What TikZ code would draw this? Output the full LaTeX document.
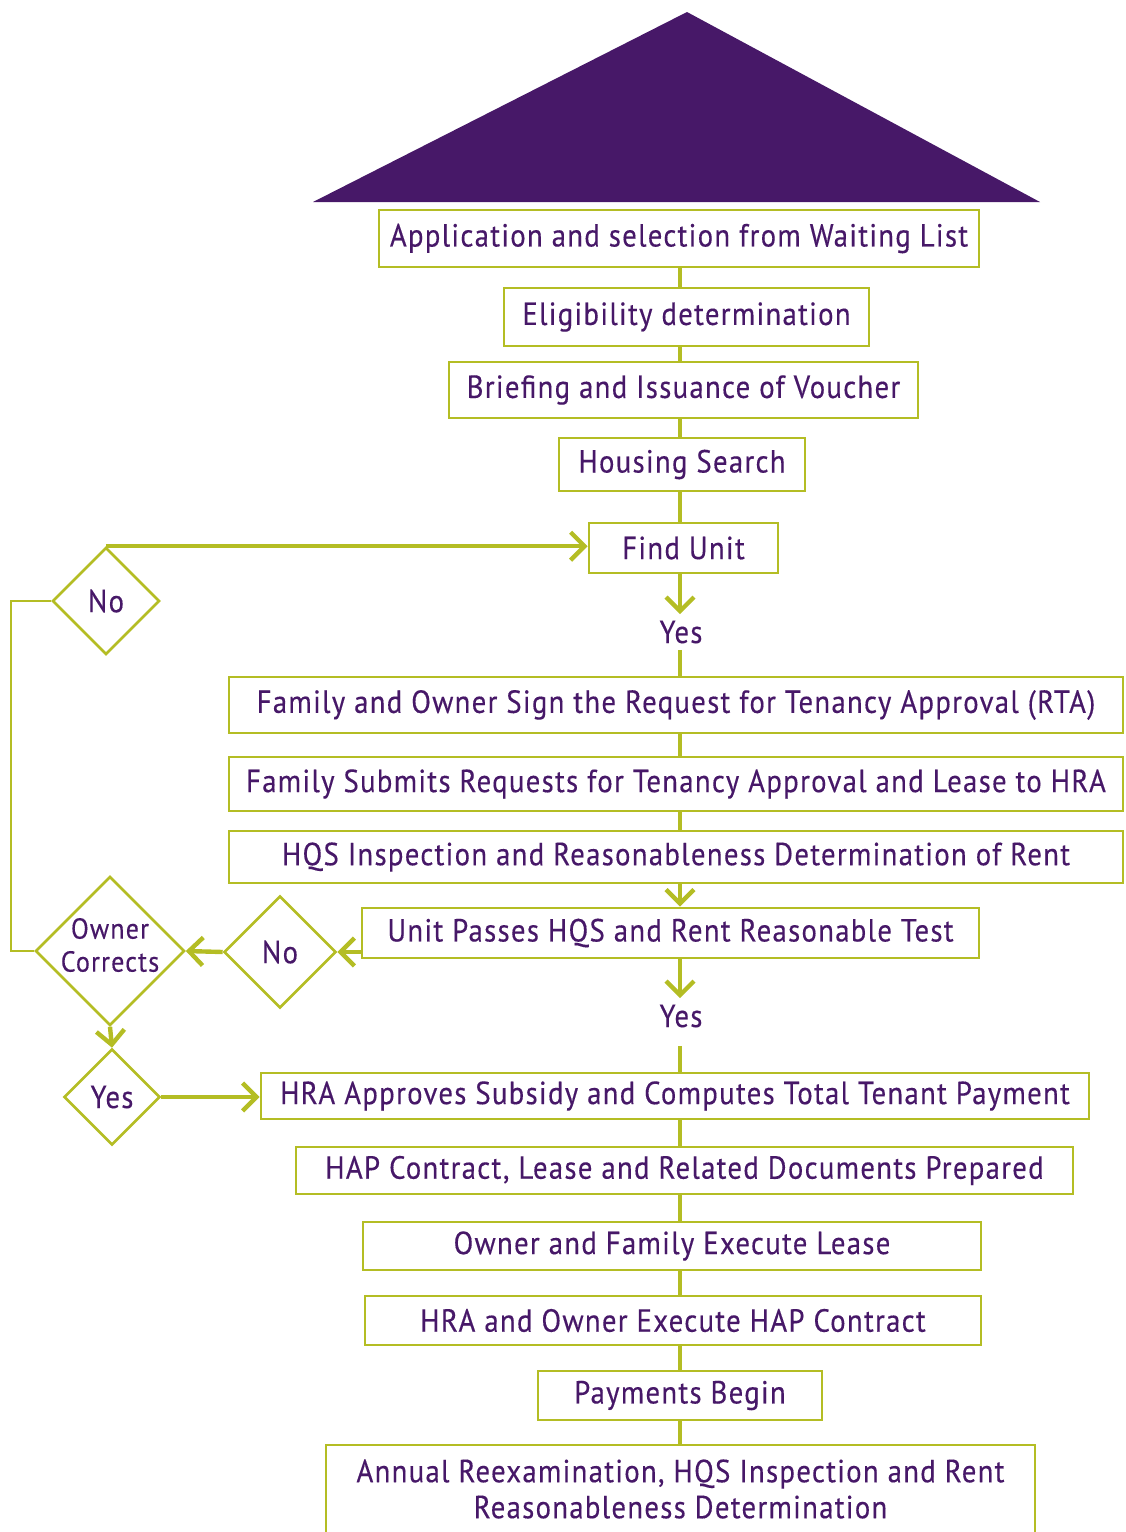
\documentclass[tikz,border=0pt]{standalone}
\usepackage{fontspec}
\setmainfont{PT Sans}[FakeStretch=0.9,LetterSpace=4,FakeBold=0.3]
\usetikzlibrary{shapes.geometric,arrows.meta}
\definecolor{hpurple}{RGB}{71,24,104}
\definecolor{hgreen}{RGB}{180,189,36}

\begin{document}
\begin{tikzpicture}[x=0.5pt,y=-0.5pt,
  box/.style={draw=hgreen,line width=1.3pt,text=hpurple,inner sep=0pt,align=center,
    font=\fontsize{16}{18}\selectfont},
  dec/.style={draw=hgreen,line width=1.3pt,diamond,aspect=1,inner sep=0pt,text=hpurple,
    font=\fontsize{16}{18}\selectfont},
  yes/.style={text=hpurple,inner sep=3pt,font=\fontsize{16}{18}\selectfont},
  link/.style={draw=hgreen,line width=2pt},
  arr/.style={draw=hgreen,line width=2.2pt,-{Straight Barb[length=7pt,width=14pt]}}]
\useasboundingbox (0,0) rectangle (1125,1532);

% roof
\fill[hpurple] (313,202) -- (687,12) -- (1040,202) -- cycle;

% steps
\node[box,minimum width=300pt,minimum height=28.5pt] (B1) at (679,238.5) {Application and selection from Waiting List};
\node[box,minimum width=182.5pt,minimum height=29pt] (B2) at (686.5,317) {Eligibility determination};
\node[box,minimum width=234.5pt,minimum height=28pt] (B3) at (683.5,390) {Briefing and Issuance of Voucher};
\node[box,minimum width=123pt,minimum height=26.5pt] (B4) at (682,464.5) {Housing Search};
\node[box,minimum width=94.5pt,minimum height=25pt] (B5) at (683.5,548) {Find Unit};
\node[yes] (Y1) at (681,632) {Yes};
\node[box,minimum width=447pt,minimum height=28pt] (B6) at (676,705) {Family and Owner Sign the Request for Tenancy Approval (RTA)};
\node[box,minimum width=447pt,minimum height=27pt] (B7) at (676,784) {Family Submits Requests for Tenancy Approval and Lease to HRA};
\node[box,minimum width=447pt,minimum height=26pt] (B8) at (676,857) {HQS Inspection and Reasonableness Determination of Rent};
\node[box,minimum width=308.5pt,minimum height=25pt] (B9) at (670.5,933) {Unit Passes HQS and Rent Reasonable Test};
\node[yes] (Y2) at (681,1016) {Yes};
\node[box,minimum width=414pt,minimum height=23pt] (B10) at (675,1096) {HRA Approves Subsidy and Computes Total Tenant Payment};
\node[box,minimum width=388.5pt,minimum height=23.5pt] (B11) at (684.5,1170.5) {HAP Contract, Lease and Related Documents Prepared};
\node[box,minimum width=309pt,minimum height=24pt] (B12) at (672,1246) {Owner and Family Execute Lease};
\node[box,minimum width=308pt,minimum height=24.5pt] (B13) at (673,1320.5) {HRA and Owner Execute HAP Contract};
\node[box,minimum width=142pt,minimum height=24.5pt] (B14) at (680,1395.5) {Payments Begin};
\node[box,minimum width=354.5pt,minimum height=44pt] (B15) at (680.5,1489) {Annual Reexamination, HQS Inspection and Rent\\Reasonableness Determination};

% decisions
\node[dec,minimum size=53.5pt] (D1) at (106,601) {No};
\node[dec,minimum size=74.5pt,label={[text=hpurple,align=center,yshift=3pt,font=\fontsize{14.5}{16.5}\selectfont]center:Owner\\Corrects}] (D2) at (110,951) {};
\node[dec,minimum size=56pt] (D3) at (280,952) {No};
\node[dec,minimum size=48pt] (D4) at (112,1097) {Yes};

% main line
\coordinate (axis) at (680,0);
\coordinate (rail) at (11,700);
\draw[link] (B1.south -| axis) -- (B2.north -| axis);
\draw[link] (B2.south -| axis) -- (B3.north -| axis);
\draw[link] (B3.south -| axis) -- (B4.north -| axis);
\draw[link] (B4.south -| axis) -- (B5.north -| axis);
\draw[arr] (B5.south -| axis) -- (Y1.north -| axis);
\draw[link] (Y1.south -| axis) -- (B6.north -| axis);
\draw[link] (B6.south -| axis) -- (B7.north -| axis);
\draw[link] (B7.south -| axis) -- (B8.north -| axis);
\draw[arr] (B8.south -| axis) -- (B9.north -| axis);
\draw[arr] (B9.south -| axis) -- (Y2.north -| axis);
\draw[link,shorten <=6pt] (Y2.south -| axis) -- (B10.north -| axis);
\draw[link] (B10.south -| axis) -- (B11.north -| axis);
\draw[link] (B11.south -| axis) -- (B12.north -| axis);
\draw[link] (B12.south -| axis) -- (B13.north -| axis);
\draw[link] (B13.south -| axis) -- (B14.north -| axis);
\draw[link] (B14.south -| axis) -- (B15.north -| axis);

% side loop
\draw[arr] (D1.north) -- (D1.north -| B5.west);
\draw[draw=hgreen,line width=1.3pt] (D1.west) -| (rail) |- (D2.west);
\draw[arr] (D3.east -| B9.west) -- (D3.east);
\draw[arr] (D3.west) -- (D2.east);
\draw[arr] (D2.south) -- (D4.north);
\draw[arr] (D4.east) -- (D4.east -| B10.west);
\end{tikzpicture}
\end{document}
